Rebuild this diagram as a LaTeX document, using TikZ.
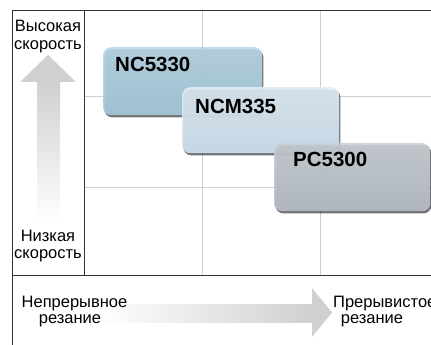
\documentclass[tikz,border=0pt]{standalone}
\usepackage{fontspec}
\setmainfont{Liberation Sans}
\usetikzlibrary{shadows}
\definecolor{ncA}{HTML}{B8D6E7}
\definecolor{ncB}{HTML}{A5C9DD}
\definecolor{nmA}{HTML}{E0EDF7}
\definecolor{nmB}{HTML}{D0E3F1}
\definecolor{pcA}{HTML}{C9CFD6}
\definecolor{pcB}{HTML}{B7BEC6}
\definecolor{arrowgray}{HTML}{D0D0D0}
\definecolor{frameline}{HTML}{333333}
\definecolor{gridline}{HTML}{CFCFCF}
\tikzset{
  frame/.style={draw=frameline, line width=0.9pt},
  gridl/.style={draw=gridline, line width=0.6pt},
  prodbox/.style={rounded corners=8pt, inner sep=0pt, anchor=north west, fill opacity=0.9,
    drop shadow={shadow xshift=1.2pt, shadow yshift=-2.2pt, fill=black, opacity=0.55}},
  prodtxt/.style={anchor=base west, inner sep=0pt, font=\fontsize{20.5}{24}\selectfont\bfseries},
  lbl/.style={anchor=base, inner sep=0pt, font=\fontsize{16.5}{19}\selectfont}
}
\begin{document}
\begin{tikzpicture}[x=1pt,y=1pt]
\useasboundingbox (0,0) rectangle (431,345);
\clip (0,0) rectangle (431,345);
% light grid
\draw[gridl] (202,335) -- (202,70);
\draw[gridl] (320,335) -- (320,70);
\draw[gridl] (84,249) -- (431,249);
\draw[gridl] (84,158) -- (431,158);
% frame
\draw[frame] (431,335) -- (12,335) -- (12,0);
\draw[frame] (84,335) -- (84,70);
\draw[frame] (12,70) -- (431,70);
% up arrow
\shade[top color=arrowgray, bottom color=white] (37,263.5) rectangle (60,122);
\fill[arrowgray] (20,263) -- (48,290) -- (76,263) -- cycle;
% right arrow
\shade[left color=white, right color=arrowgray] (98,22) rectangle (312.5,40);
\fill[arrowgray] (312,8) -- (332,32.5) -- (312,57) -- cycle;
% product boxes
\node[prodbox, top color=ncA, bottom color=ncB, minimum width=159pt, minimum height=68pt] (nc) at (103,298) {};
\node[prodtxt] (nct) at (115,273) {NC5330};
\node[prodbox, top color=nmA, bottom color=nmB, minimum width=157pt, minimum height=66pt] (nm) at (182,258) {};
\node[prodtxt] (nmt) at (195,231) {NCM335};
\node[prodbox, top color=pcA, bottom color=pcB, minimum width=156pt, minimum height=68pt] (pc) at (274,202) {};
\node[prodtxt] (pct) at (293,178) {PC5300};
% labels
\node[lbl] (hi1) at (48,313) {Высокая};
\node[lbl] (hi2) at (48,295) {скорость};
\node[lbl] (lo1) at (48,103) {Низкая};
\node[lbl] (lo2) at (48,86) {скорость};
\node[lbl] (c1) at (74.5,37) {Непрерывное};
\node[lbl] (c2) at (70,21) {резание};
\node[lbl, anchor=base west] (i1) at (333,37) {Прерывистое};
\node[lbl] (i2) at (372,21) {резание};
\end{tikzpicture}
\end{document}
